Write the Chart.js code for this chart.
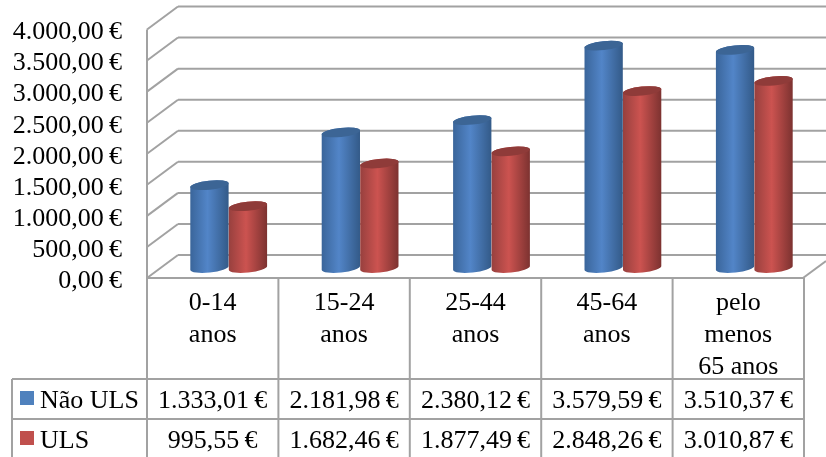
<!DOCTYPE html>
<html>
<head>
<meta charset="utf-8">
<title>Custo por faixa etária</title>
<script src="https://cdn.jsdelivr.net/npm/chart.js@4"></script>
<style>
  html, body { margin: 0; padding: 0; background: #fff; }
  canvas { display: block; }
</style>
</head>
<body>
<canvas id="chart" width="826" height="457"></canvas>
<script>
const categories = [
  ['0-14', 'anos'],
  ['15-24', 'anos'],
  ['25-44', 'anos'],
  ['45-64', 'anos'],
  ['pelo', 'menos', '65 anos'],
];
const naoUls = [1333.01, 2181.98, 2380.12, 3579.59, 3510.37];
const uls = [995.55, 1682.46, 1877.49, 2848.26, 3010.87];
const seriesNames = ['Não ULS', 'ULS'];
const seriesColors = ['#4f81bd', '#c0504d'];
const capColors = ['#3c6595', '#8f3b39'];
const bodyStops = [
  ['#3a659a', '#5285c8', '#335a88'],
  ['#97403e', '#cc5350', '#7c3230'],
];

const FONT = '"Liberation Serif", "Times New Roman", serif';
const FONT_SIZE = 26;
const LINE = '#a2a2a2';
const WALL_DROP = -13;   // back wall sits above the bar floor
const FRONT_DROP = 10;   // front edge of the box sits below it
const LABEL_DROP = 13;   // value labels, centred on the front edge ticks
const CELL_SHIFT = -16;  // table columns are left of the bars
const CAP_TILT = -6 * Math.PI / 180;
const CAP_RY = 4.5;

function euro(value) {
  return value.toLocaleString('de-DE', { minimumFractionDigits: 2, maximumFractionDigits: 2 }) + '\u2009€';
}

function segment(ctx, x1, y1, x2, y2) {
  ctx.beginPath();
  ctx.moveTo(x1, y1);
  ctx.lineTo(x2, y2);
  ctx.stroke();
}

// Walls and floor of the 3D box, hung off the value scale
function drawWalls(chart) {
  const { ctx, width, scales: { y } } = chart;
  const frontX = 147, backX = 178;
  ctx.save();
  ctx.strokeStyle = LINE;
  ctx.lineWidth = 2;
  y.ticks.forEach((tick, i) => {
    const p = y.getPixelForTick(i);
    segment(ctx, frontX, p + FRONT_DROP, backX, p + WALL_DROP);
    segment(ctx, backX, p + WALL_DROP, width, p + WALL_DROP);
  });
  const zero = y.getPixelForValue(0);
  segment(ctx, frontX, y.getPixelForValue(4000) + FRONT_DROP, frontX, zero + FRONT_DROP);
  segment(ctx, 803, zero + FRONT_DROP, width, zero + WALL_DROP + 6);
  ctx.restore();
}

function drawCylinder(ctx, bar, stops, capColor) {
  const r = bar.width / 2;
  const dx = r * Math.cos(CAP_TILT);
  const dy = r * Math.sin(CAP_TILT);
  const gradient = ctx.createLinearGradient(bar.x - r, 0, bar.x + r, 0);
  gradient.addColorStop(0, stops[0]);
  gradient.addColorStop(0.45, stops[1]);
  gradient.addColorStop(1, stops[2]);

  ctx.beginPath();
  ctx.moveTo(bar.x - dx, bar.y - dy);
  ctx.lineTo(bar.x - dx, bar.base - dy);
  ctx.ellipse(bar.x, bar.base, r, CAP_RY, CAP_TILT, Math.PI, 0, true);
  ctx.lineTo(bar.x + dx, bar.y + dy);
  ctx.ellipse(bar.x, bar.y, r, CAP_RY, CAP_TILT, 0, Math.PI, true);
  ctx.closePath();
  ctx.fillStyle = gradient;
  ctx.fill();

  ctx.beginPath();
  ctx.ellipse(bar.x, bar.y, r, CAP_RY, CAP_TILT, 0, Math.PI * 2);
  ctx.fillStyle = capColor;
  ctx.fill();
}

// Data table under the chart, with legend keys in the first column
function drawTable(chart) {
  const { ctx, scales: { x, y } } = chart;
  const rows = [naoUls, uls];
  const rowY = [399, 439];
  const step = x.getPixelForValue(1) - x.getPixelForValue(0);
  const cellX = categories.map((c, i) => x.getPixelForValue(i) + CELL_SHIFT);
  const floorY = y.getPixelForValue(0) + FRONT_DROP;
  const tableLeft = 12;
  const tableRight = cellX[cellX.length - 1] + step / 2;
  const bottom = chart.height;

  ctx.save();
  ctx.strokeStyle = LINE;
  ctx.lineWidth = 2;
  segment(ctx, cellX[0] - step / 2, floorY, tableRight, floorY);
  segment(ctx, tableLeft, 379, tableRight, 379);
  segment(ctx, tableLeft, 419, tableRight, 419);
  segment(ctx, tableLeft, 379, tableLeft, bottom);
  cellX.forEach(cx => segment(ctx, cx - step / 2, floorY, cx - step / 2, bottom));
  segment(ctx, tableRight, floorY, tableRight, bottom);

  ctx.font = `${FONT_SIZE}px ${FONT}`;
  ctx.textBaseline = 'middle';
  rows.forEach((values, r) => {
    ctx.fillStyle = seriesColors[r];
    ctx.fillRect(20, rowY[r] - 8, 14, 14);
    ctx.fillStyle = '#000';
    ctx.textAlign = 'left';
    ctx.fillText(seriesNames[r], 40, rowY[r] + 2);
    ctx.textAlign = 'center';
    values.forEach((v, i) => ctx.fillText(euro(v), cellX[i], rowY[r] + 2));
  });
  ctx.restore();
}

const box3d = {
  id: 'box3d',
  beforeDatasetsDraw(chart) {
    drawWalls(chart);
  },
  // Cylinders replace the flat bars; red goes over blue
  beforeDatasetDraw() {
    return false;
  },
  afterDatasetsDraw(chart) {
    chart.data.datasets.forEach((ds, i) => {
      chart.getDatasetMeta(i).data.forEach(bar => drawCylinder(chart.ctx, bar, bodyStops[i], capColors[i]));
    });
  },
  afterDraw(chart) {
    drawTable(chart);
  },
};

new Chart(document.getElementById('chart'), {
  type: 'bar',
  data: {
    labels: categories,
    datasets: [
      { label: seriesNames[0], data: naoUls, backgroundColor: seriesColors[0] },
      { label: seriesNames[1], data: uls, backgroundColor: seriesColors[1] },
    ],
  },
  options: {
    responsive: false,
    animation: false,
    categoryPercentage: 0.586,
    barPercentage: 1,
    layout: { padding: { top: 19.5, right: 6, left: 0, bottom: 0 } },
    plugins: { legend: { display: false }, tooltip: { enabled: false } },
    scales: {
      x: {
        grid: { display: false },
        border: { display: false },
        ticks: {
          color: '#000',
          font: { family: FONT, size: FONT_SIZE, lineHeight: 32 / FONT_SIZE },
          padding: 11,
          labelOffset: CELL_SHIFT,
          maxRotation: 0,
          autoSkip: false,
        },
        afterFit: s => { s.height = 189; s.paddingLeft = 0; s.paddingRight = 0; },
      },
      y: {
        min: 0,
        max: 4000,
        grid: { display: false },
        border: { display: false },
        ticks: {
          stepSize: 500,
          autoSkip: false,
          color: '#000',
          font: { family: FONT, size: FONT_SIZE },
          padding: 33,
          labelOffset: LABEL_DROP,
          callback: v => euro(v),
        },
        afterFit: s => { s.width = 163; s.paddingTop = 0; s.paddingBottom = 0; },
      },
    },
  },
  plugins: [box3d],
});
</script>
</body>
</html>
